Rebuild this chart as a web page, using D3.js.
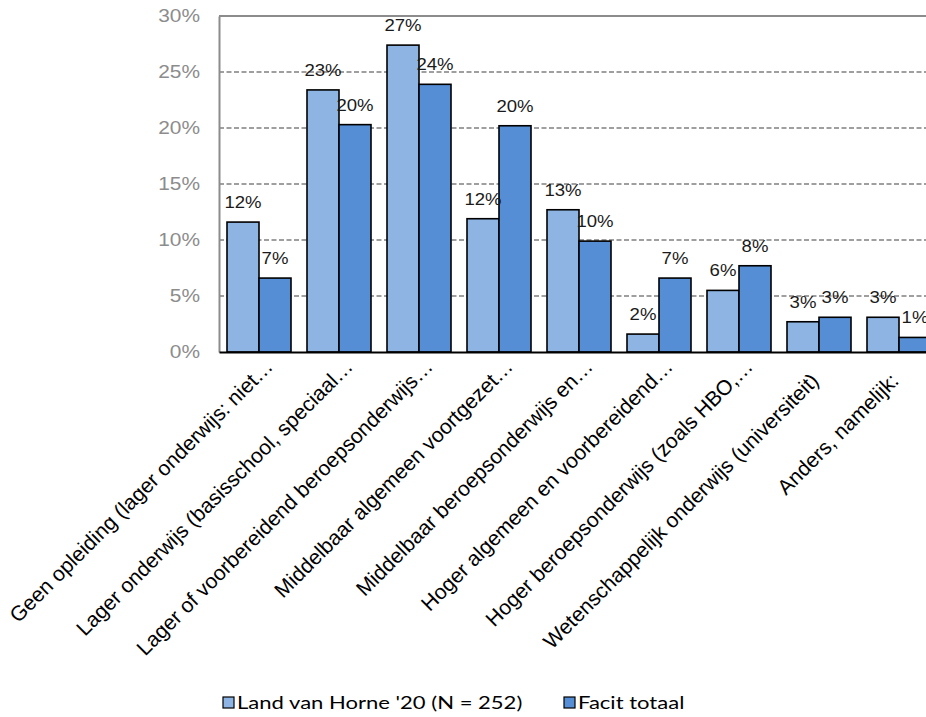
<!DOCTYPE html>
<html>
<head>
<meta charset="utf-8">
<script src="https://cdn.jsdelivr.net/npm/d3@7"></script>
<style>
  html, body { margin: 0; padding: 0; background: #ffffff; }
  svg { display: block; }
</style>
</head>
<body>
<svg id="chart" width="926" height="717"></svg>
<script>
// Opleidingsniveau: Land van Horne '20 vergeleken met Facit totaal
const categories = [
  "Geen opleiding (lager onderwijs: niet…",
  "Lager onderwijs (basisschool, speciaal…",
  "Lager of voorbereidend beroepsonderwijs…",
  "Middelbaar algemeen voortgezet…",
  "Middelbaar beroepsonderwijs en…",
  "Hoger algemeen en voorbereidend…",
  "Hoger beroepsonderwijs (zoals HBO,…",
  "Wetenschappelijk onderwijs (universiteit)",
  "Anders, namelijk:"
];
const seriesNames = ["Land van Horne '20 (N = 252)", "Facit totaal"];
const landVanHorne = [0.116, 0.234, 0.274, 0.119, 0.127, 0.016, 0.055, 0.027, 0.031];
const facitTotaal  = [0.066, 0.203, 0.239, 0.202, 0.099, 0.066, 0.077, 0.031, 0.013];
const yTicks = [0, 0.05, 0.10, 0.15, 0.20, 0.25, 0.30];
const colors = ["#8EB4E3", "#558ED5"];

const ARIAL = "Liberation Sans, Arial, Helvetica, sans-serif";
const svg = d3.select("#chart");
const plot = { left: 219, right: 939, top: 16, bottom: 352 };

const x = d3.scaleBand()
  .domain(categories)
  .range([plot.left, plot.right])
  .paddingInner(0.2)
  .paddingOuter(0.1);

const xSub = d3.scaleBand()
  .domain([0, 1])
  .range([0, x.bandwidth()]);

const y = d3.scaleLinear()
  .domain([0, 0.30])
  .range([plot.bottom, plot.top]);

const pct = v => Math.round(v * 100) + "%";
const stretch = 1.16; // text is slightly wide in this chart style

// Horizontal dashed gridlines
svg.append("g")
  .selectAll("line")
  .data(yTicks.filter(t => t > 0 && t < 0.30))
  .join("line")
  .attr("x1", plot.left)
  .attr("x2", plot.right)
  .attr("y1", d => y(d))
  .attr("y2", d => y(d))
  .attr("stroke", "#808080")
  .attr("stroke-width", 1.5)
  .attr("stroke-dasharray", "5,2.5");

// Top border of the plot area
svg.append("line")
  .attr("x1", plot.left).attr("x2", plot.right)
  .attr("y1", y(0.30)).attr("y2", y(0.30))
  .attr("stroke", "#8c8c8c").attr("stroke-width", 2);

// Left value axis
const yAxis = d3.axisLeft(y)
  .tickValues(yTicks)
  .tickFormat(d3.format(".0%"))
  .tickSize(0)
  .tickPadding(0);

const yG = svg.append("g")
  .attr("transform", `translate(${plot.left},0)`)
  .call(yAxis);
yG.select(".domain").attr("stroke", "#8c8c8c").attr("stroke-width", 2);
yG.selectAll("text")
  .attr("x", -19 / stretch)
  .attr("transform", `scale(${stretch},1)`)
  .attr("fill", "#8c8c8c")
  .attr("font-family", ARIAL)
  .attr("font-size", 18);

// Bars
const rows = categories.map((c, i) => ({ cat: c, vals: [landVanHorne[i], facitTotaal[i]] }));

const groups = svg.append("g")
  .selectAll("g")
  .data(rows)
  .join("g")
  .attr("transform", d => `translate(${x(d.cat)},0)`);

groups.selectAll("rect")
  .data(d => d.vals.map((v, s) => ({ v, s })))
  .join("rect")
  .attr("x", d => xSub(d.s))
  .attr("width", xSub.bandwidth())
  .attr("y", d => y(d.v))
  .attr("height", d => y(0) - y(d.v))
  .attr("fill", d => colors[d.s])
  .attr("stroke", "#000")
  .attr("stroke-width", 1.6);

// Value labels above bars
groups.selectAll("text")
  .data(d => d.vals.map((v, s) => ({ v, s })))
  .join("text")
  .attr("transform", d => `translate(${xSub(d.s) + xSub.bandwidth() / 2},${y(d.v) - 14}) scale(${stretch},1)`)
  .attr("text-anchor", "middle")
  .attr("fill", "#1a1a1a")
  .attr("font-family", ARIAL)
  .attr("font-size", 16)
  .text(d => pct(d.v));

// Category axis with rotated labels; truncated labels sit a little further along
const xAxis = d3.axisBottom(x).tickSize(0).tickPadding(0);
const xG = svg.append("g")
  .attr("transform", `translate(0,${plot.bottom})`)
  .call(xAxis);
xG.select(".domain").attr("stroke", "#000").attr("stroke-width", 2);
xG.selectAll("text")
  .attr("text-anchor", "end")
  .attr("fill", "#000")
  .attr("font-family", ARIAL)
  .attr("font-size", 21)
  .attr("dy", null)
  .attr("y", 0)
  .attr("dx", d => d.endsWith("…") ? 20 : 0)
  .attr("transform", `translate(1,30) rotate(-45)`);

// Legend
const legend = svg.append("g")
  .attr("transform", "translate(223,697)");
const legendX = [0, 341];
seriesNames.forEach((name, i) => {
  const g = legend.append("g").attr("transform", `translate(${legendX[i]},0)`);
  g.append("rect")
    .attr("width", 11).attr("height", 11)
    .attr("fill", colors[i])
    .attr("stroke", "#000").attr("stroke-width", 1.2);
  g.append("text")
    .attr("transform", "translate(14,11.5) scale(1.26,1)")
    .attr("font-family", "Lato, Open Sans, sans-serif")
    .attr("font-size", 17.5)
    .attr("fill", "#000")
    .text(name);
});
</script>
</body>
</html>
